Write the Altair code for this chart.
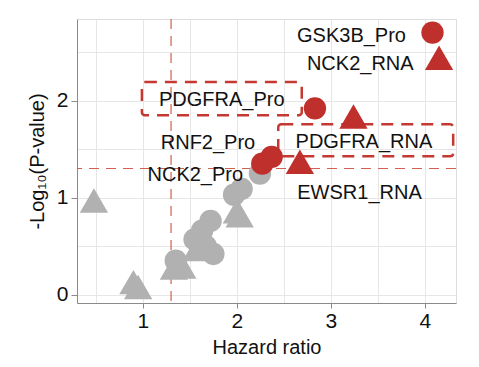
import altair as alt
import pandas as pd

# ---- data ----
hr_red_pro = [4.08, 2.83, 2.37, 2.27]
lp_red_pro = [2.70, 1.92, 1.42, 1.35]
hr_red_rna = [4.15, 3.24, 2.67]
lp_red_rna = [2.44, 1.835, 1.37]
hr_gray_pro = [2.245, 2.05, 1.97, 1.72, 1.63, 1.55, 1.75, 1.67, 1.35]
lp_gray_pro = [1.249, 1.09, 1.03, 0.76, 0.66, 0.57, 0.42, 0.50, 0.35]
hr_gray_rna = [0.48, 2.0, 2.03, 1.57, 1.33, 1.42, 0.90, 0.95]
lp_gray_rna = [0.97, 0.86, 0.82, 0.47, 0.28, 0.29, 0.13, 0.08]

labels = ["GSK3B_Pro", "NCK2_RNA", "PDGFRA_Pro", "RNF2_Pro", "PDGFRA_RNA", "NCK2_Pro", "EWSR1_RNA"]
label_x = [3.219, 3.312, 1.839, 1.693, 3.351, 1.558, 3.304]
label_y = [2.67, 2.38, 2.003, 1.564, 1.574, 1.232, 1.050]

box_x1 = [0.99, 2.44]
box_x2 = [2.69, 4.30]
box_y1 = [1.848, 1.426]
box_y2 = [2.19, 1.756]

hr_cut = [1.3]
p_cut = [1.3]

x_ticks = [0.5, 1, 1.5, 2, 2.5, 3, 3.5, 4]
y_ticks = [0, 0.5, 1, 1.5, 2, 2.5]

RED = "#bf2f2c"
GRAY = "#b1b1b1"
FONT = "Liberation Sans"

rows = []
for xs, ys, t, s in [
    (hr_gray_pro, lp_gray_pro, "Pro", "ns"),
    (hr_gray_rna, lp_gray_rna, "RNA", "ns"),
    (hr_red_pro, lp_red_pro, "Pro", "sig"),
    (hr_red_rna, lp_red_rna, "RNA", "sig"),
]:
    for a, b in zip(xs, ys):
        rows.append({"hr": a, "lp": b, "type": t, "sig": s})
pts = pd.DataFrame(rows)

xscale = alt.Scale(domain=[0.30, 4.33], nice=False, zero=False)
yscale = alt.Scale(domain=[-0.085, 2.84], nice=False, zero=False)

minor_tick = {"condition": {"test": "datum.value % 1 !== 0", "value": "transparent"}, "value": "#8a8a8a"}
int_labels = "datum.value % 1 === 0 ? '' + datum.value : ''"

xaxis = alt.Axis(
    values=x_ticks, labelExpr=int_labels,
    title="Hazard ratio", grid=True, gridColor="#e6e6e6", gridWidth=1,
    domainColor="#8a8a8a", tickColor=minor_tick, tickSize=5, labelPadding=2,
    labelFontSize=21, titleFontSize=20, labelFont=FONT, titleFont=FONT,
    labelColor="#111", titleColor="#111", titleFontWeight="normal", titlePadding=6,
)
yaxis = alt.Axis(
    values=y_ticks, labelExpr=int_labels,
    title="-Log₁₀(P-value)", grid=True, gridColor="#e6e6e6", gridWidth=1,
    domainColor="#8a8a8a", tickColor=minor_tick, tickSize=6, labelPadding=3,
    labelFontSize=21, titleFontSize=20, labelFont=FONT, titleFont=FONT,
    labelColor="#111", titleColor="#111", titleFontWeight="normal", titlePadding=9,
)

points = alt.Chart(pts).mark_point(filled=True, opacity=1, strokeWidth=0).encode(
    x=alt.X("hr:Q", scale=xscale, axis=xaxis),
    y=alt.Y("lp:Q", scale=yscale, axis=yaxis),
    shape=alt.Shape("type:N", scale=alt.Scale(domain=["Pro", "RNA"], range=["circle", "triangle-up"]), legend=None),
    size=alt.Size("type:N", scale=alt.Scale(domain=["Pro", "RNA"], range=[500, 800]), legend=None),
    color=alt.Color("sig:N", scale=alt.Scale(domain=["ns", "sig"], range=[GRAY, RED]), legend=None),
)

hline = alt.Chart(pd.DataFrame({"p": p_cut})).mark_rule(
    color="#d0604f", strokeWidth=1.2, strokeDash=[10, 7]
).encode(y=alt.Y("p:Q", scale=yscale))

vline = alt.Chart(pd.DataFrame({"h": hr_cut})).mark_rule(
    color="#d0604f", strokeWidth=1.2, strokeDash=[10, 7]
).encode(x=alt.X("h:Q", scale=xscale))

boxes = alt.Chart(pd.DataFrame({"x1": box_x1, "x2": box_x2, "y1": box_y1, "y2": box_y2})).mark_rect(
    fill=None, fillOpacity=0, stroke="#c43a33", strokeWidth=2.5, strokeDash=[12, 8], cornerRadius=3
).encode(
    x=alt.X("x1:Q", scale=xscale), x2="x2:Q",
    y=alt.Y("y1:Q", scale=yscale), y2="y2:Q",
)

texts = alt.Chart(pd.DataFrame({"lab": labels, "x": label_x, "y": label_y})).mark_text(
    font=FONT, fontSize=20, color="#111", align="center", baseline="middle"
).encode(
    x=alt.X("x:Q", scale=xscale), y=alt.Y("y:Q", scale=yscale), text="lab:N"
)

chart = alt.layer(hline, vline, boxes, points, texts).properties(
    width=379, height=284,
    autosize=alt.AutoSizeParams(type="none"),
    padding={"left": 69, "top": 11, "right": 15, "bottom": 60},
).configure_view(stroke="#b5b5b5", strokeWidth=1).configure(background="white")

chart.save("out.html", embed_options={"renderer": "svg", "actions": False})
